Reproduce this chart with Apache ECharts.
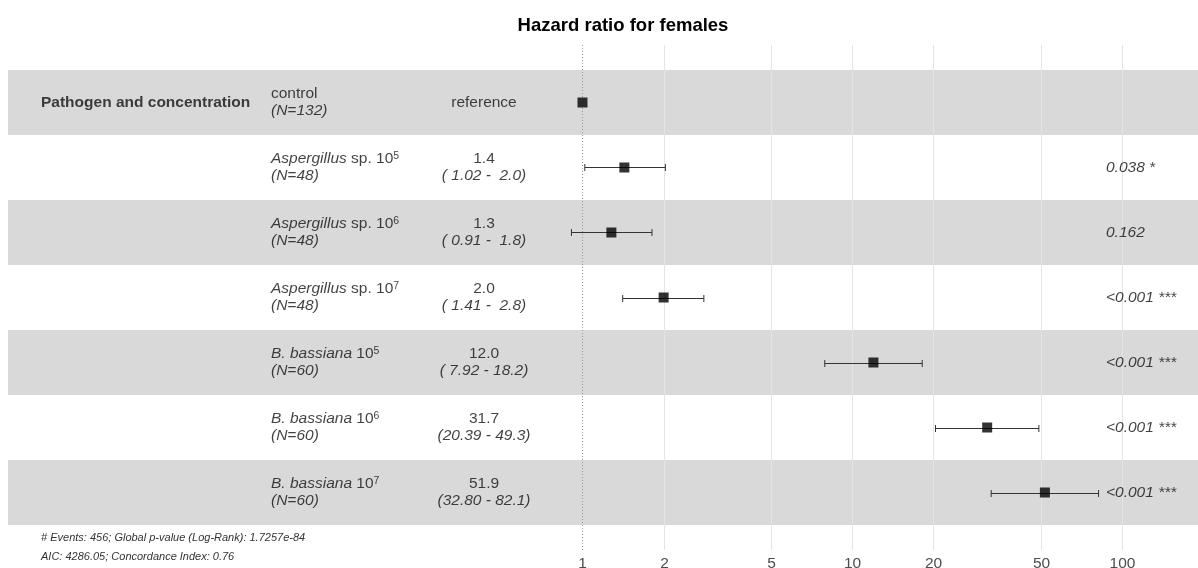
<!DOCTYPE html>
<html><head><meta charset="utf-8">
<script src="https://cdn.jsdelivr.net/npm/echarts@6/dist/echarts.min.js"></script>
<style>html,body{margin:0;padding:0;background:#fff}#c{width:1198px;height:568px}</style>
</head><body><div id="c"></div>
<script>
// ---- data ----
const rowKeys = ['control', 'asp5', 'asp6', 'asp7', 'bb5', 'bb6', 'bb7'];
const pathogenNames = ['control', 'Aspergillus', 'Aspergillus', 'Aspergillus', 'B. bassiana', 'B. bassiana', 'B. bassiana'];
const nameSuffix = ['', ' sp. 10', ' sp. 10', ' sp. 10', ' 10', ' 10', ' 10'];
const exponents = ['', '5', '6', '7', '5', '6', '7'];
const nObs = [132, 48, 48, 48, 60, 60, 60];
const hazardRatio = [1, 1.43, 1.28, 2.0, 12.0, 31.7, 51.9];
const ciLower = [null, 1.02, 0.91, 1.41, 7.92, 20.39, 32.80];
const ciUpper = [null, 2.03, 1.81, 2.82, 18.2, 49.3, 82.1];
const hrText = ['reference', '1.4', '1.3', '2.0', '12.0', '31.7', '51.9'];
const ciText = ['', '( 1.02 -  2.0)', '( 0.91 -  1.8)', '( 1.41 -  2.8)', '( 7.92 - 18.2)', '(20.39 - 49.3)', '(32.80 - 82.1)'];
const pValueText = ['', '0.038 *', '0.162', '<0.001 ***', '<0.001 ***', '<0.001 ***', '<0.001 ***'];
const axisTicks = [1, 2, 5, 10, 20, 50, 100];
const titleText = 'Hazard ratio for females';
const variableLabel = 'Pathogen and concentration';
const footerLines = ['# Events: 456; Global p-value (Log-Rank): 1.7257e-84', 'AIC: 4286.05; Concordance Index: 0.76'];

// ---- layout constants ----
const FONT = '"Liberation Sans", Arial, Helvetica, sans-serif';
const TXT = '#111';
const FS = 15.5;
const COL_VAR = 33, COL_NAME = 263, COL_HR = 476, COL_P = 1098;

const chart = echarts.init(document.getElementById('c'));

const base = { fontFamily: FONT, fontSize: FS, color: TXT, lineHeight: 17 };
const rich = {
  t: Object.assign({}, base),
  i: Object.assign({}, base, { fontStyle: 'italic' }),
  s: Object.assign({}, base, { fontSize: 10.5, verticalAlign: 'top', lineHeight: 17 }),
  b: Object.assign({}, base, { fontWeight: 'bold' })
};

const nameData = rowKeys.map((k, i) => {
  let line1;
  if (exponents[i] === '') line1 = '{t|' + pathogenNames[i] + '}';
  else line1 = '{i|' + pathogenNames[i] + '}{t|' + nameSuffix[i] + '}{s|' + exponents[i] + '}';
  return { value: [COL_NAME, i], label: { formatter: line1 + '\n{i|(N=' + nObs[i] + ')}' } };
});
const hrData = rowKeys.map((k, i) => ({
  value: [COL_HR, i],
  label: { formatter: ciText[i] ? '{t|' + hrText[i] + '}\n{i|' + ciText[i] + '}' : '{t|' + hrText[i] + '}' }
}));
const pData = rowKeys.map((k, i) => ({ value: [COL_P, i], label: { formatter: '{i|' + pValueText[i] + '}' } }));

const whiskerData = [];
const pointData = [];
rowKeys.forEach((k, i) => {
  pointData.push([hazardRatio[i], i]);
  if (ciLower[i] != null) whiskerData.push([i, ciLower[i], ciUpper[i]]);
});

const option = {
  animation: false,
  backgroundColor: '#fff',
  title: [
    { text: titleText, left: 618, textAlign: 'center', top: 11,
      textStyle: { fontFamily: FONT, fontSize: 18.5, fontWeight: 'bold', color: '#000' } },
    { text: footerLines.join('\n'), left: 36, top: 523,
      textStyle: { fontFamily: FONT, fontSize: 11, fontStyle: 'italic', fontWeight: 'normal', color: '#333', lineHeight: 19 } }
  ],
  grid: [
    { left: 8, right: 0, top: 70, bottom: 43 },
    { left: 540, right: 0, top: 45, bottom: 18 }
  ],
  xAxis: [
    { gridIndex: 0, type: 'value', min: 0, max: 1190, show: false },
    { gridIndex: 1, type: 'log', logBase: 10, min: 0.6957, max: 191.9,
      axisLine: { show: false }, axisTick: { show: false }, axisLabel: { show: false }, splitLine: { show: false } }
  ],
  yAxis: [
    { gridIndex: 0, type: 'category', data: rowKeys, inverse: true,
      axisLine: { show: false }, axisTick: { show: false }, axisLabel: { show: false },
      splitLine: { show: false },
      splitArea: { show: true, interval: 0, areaStyle: { color: ['#D9D9D9', '#FFFFFF'] } } },
    { gridIndex: 1, type: 'value', inverse: true, min: -0.8846, max: 6.8846, show: false }
  ],
  series: [
    { type: 'scatter', xAxisIndex: 0, yAxisIndex: 0, symbolSize: 0, silent: true,
      data: [{ value: [COL_VAR, 0] }],
      label: { show: true, position: 'right', distance: 0, formatter: '{b|' + variableLabel + '}', rich } },
    { type: 'scatter', xAxisIndex: 0, yAxisIndex: 0, symbolSize: 0, silent: true, data: nameData,
      label: { show: true, position: 'right', distance: 0, align: 'left', rich } },
    { type: 'scatter', xAxisIndex: 0, yAxisIndex: 0, symbolSize: 0, silent: true, data: hrData,
      label: { show: true, position: 'inside', align: 'center', rich } },
    { type: 'scatter', xAxisIndex: 0, yAxisIndex: 0, symbolSize: 0, silent: true, data: pData,
      label: { show: true, position: 'right', distance: 0, align: 'left', rich } },
    // grid lines, reference line and tick labels of the log axis
    { type: 'custom', xAxisIndex: 1, yAxisIndex: 1, z: 1, silent: true,
      data: axisTicks.map(v => [v]),
      encode: { x: 0 },
      renderItem: (params, api) => {
        const v = api.value(0);
        const cs = params.coordSys;
        const x = Math.round(api.coord([v, 0])[0]) + 0.5;
        const ref = v === 1;
        return { type: 'group', children: [
          { type: 'line', shape: { x1: x, y1: cs.y, x2: x, y2: cs.y + cs.height },
            style: ref ? { stroke: '#9a9a9a', lineWidth: 1, lineDash: [1, 2] } : { stroke: '#e4e4e4', lineWidth: 1 } },
          { type: 'text', x: x, y: cs.y + cs.height + 6,
            style: { text: String(v), fontFamily: FONT, fontSize: FS, fill: '#4d4d4d', align: 'center', verticalAlign: 'top' } }
        ] };
      } },
    { type: 'custom', xAxisIndex: 1, yAxisIndex: 1, z: 3, silent: true,
      data: whiskerData,
      encode: { x: [1, 2], y: 0 },
      renderItem: (params, api) => {
        const row = api.value(0);
        const a = api.coord([api.value(1), row]);
        const b = api.coord([api.value(2), row]);
        const yy = Math.round(a[1]) + 0.5;
        const h = 3.5;
        const st = { stroke: '#333', lineWidth: 1 };
        return { type: 'group', children: [
          { type: 'line', shape: { x1: a[0], y1: yy, x2: b[0], y2: yy }, style: st },
          { type: 'line', shape: { x1: a[0], y1: yy - h, x2: a[0], y2: yy + h }, style: st },
          { type: 'line', shape: { x1: b[0], y1: yy - h, x2: b[0], y2: yy + h }, style: st }
        ] };
      } },
    { type: 'scatter', xAxisIndex: 1, yAxisIndex: 1, z: 4, silent: true, data: pointData,
      symbol: 'rect', symbolSize: 10, itemStyle: { color: '#000' } }
  ]
};
chart.setOption(option);
</script></body></html>
